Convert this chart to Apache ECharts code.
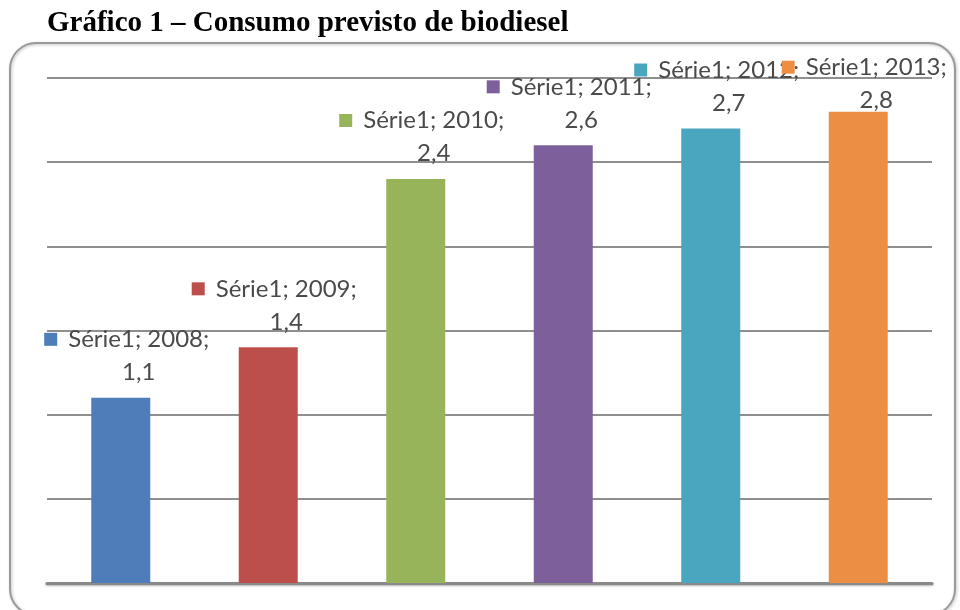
<!DOCTYPE html>
<html>
<head>
<meta charset="utf-8">
<script src="https://cdn.jsdelivr.net/npm/echarts@6/dist/echarts.min.js"></script>
<style>
html,body{margin:0;padding:0;background:#fff;}
#chart{width:960px;height:610px;}
</style>
</head>
<body>
<div id="chart"></div>
<script>
const title = 'Gráfico 1 – Consumo previsto de biodiesel';
const seriesName = 'Série1';
const categories = ['2008', '2009', '2010', '2011', '2012', '2013'];
const values = [1.1, 1.4, 2.4, 2.6, 2.7, 2.8];
const palette = ['#4F7DB9', '#BC4E4B', '#98B45A', '#7D5F9C', '#4AA6BE', '#EC8F45'];

const chart = echarts.init(document.getElementById('chart'), null, {renderer: 'canvas'});

const data = values.map((v, i) => {
  const item = {
    value: v,
    itemStyle: {color: palette[i]},
    label: {
      rich: {
        sq: {width: 13, height: 13, backgroundColor: palette[i]},
        gap: {width: 11},
        t: {fontFamily: 'Lato', fontSize: 24, color: '#4a4a4a', lineHeight: 33},
        sp: {width: 24}
      }
    }
  };
  if (i === values.length - 1) item.label.offset = [18, 14];
  return item;
});

chart.setOption({
  backgroundColor: '#ffffff',
  animation: false,
  title: {
    text: title,
    left: 42, top: 4,
    textStyle: {fontFamily: 'Liberation Serif', fontWeight: 'bold', fontSize: 29, color: '#000'}
  },
  graphic: [{
    type: 'rect',
    shape: {x: 10, y: 43, width: 945, height: 572, r: 26},
    style: {fill: 'none', stroke: '#9a9a9a', lineWidth: 2, shadowBlur: 3, shadowColor: 'rgba(0,0,0,0.25)', shadowOffsetX: 1, shadowOffsetY: 1},
    z: -1
  }],
  grid: {left: 47, right: 28, top: 78, bottom: 27, containLabel: false},
  xAxis: {
    type: 'category',
    data: categories,
    axisLine: {show: true, lineStyle: {color: '#8a8a8a', width: 3, shadowBlur: 2, shadowColor: 'rgba(0,0,0,0.3)', shadowOffsetY: 1}},
    axisTick: {show: false},
    axisLabel: {show: false}
  },
  yAxis: {
    type: 'value',
    min: 0, max: 3, interval: 0.5,
    axisLine: {show: false},
    axisTick: {show: false},
    axisLabel: {show: false},
    splitLine: {lineStyle: {color: '#8f8f8f', width: 2}}
  },
  series: [{
    type: 'bar',
    name: seriesName,
    data: data,
    barWidth: '40%',
    label: {
      show: true,
      position: 'top',
      distance: 9,
      offset: [18, 0],
      align: 'center',
      fontFamily: 'Lato', fontSize: 24, color: '#4a4a4a', lineHeight: 33,
      formatter: (p) => '{sq|}{gap|}{t|' + seriesName + '; ' + p.name + ';}{sp|}\n{t|' + String(p.value).replace('.', ',') + '}'
    }
  }]
});
</script>
</body>
</html>
